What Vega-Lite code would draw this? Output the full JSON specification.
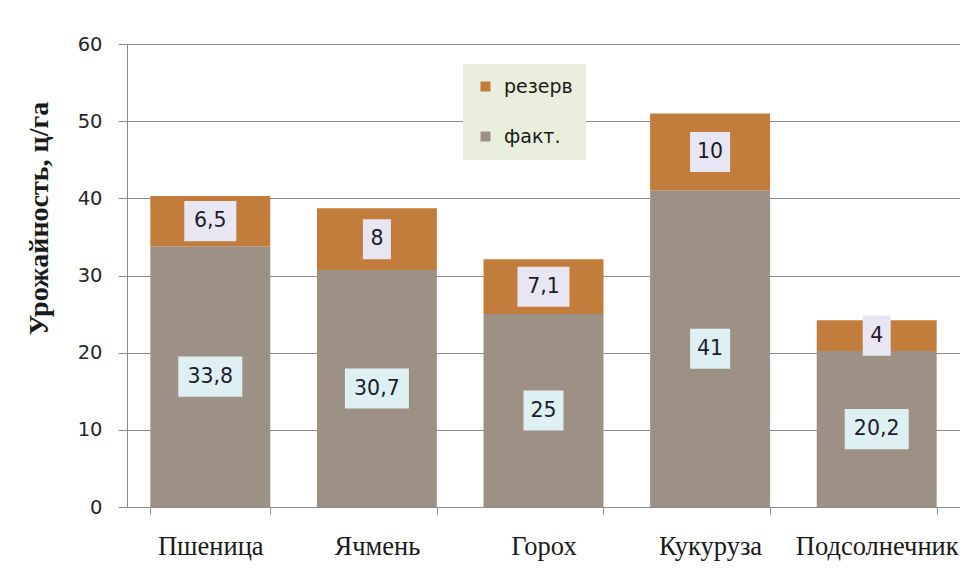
{
  "$schema": "https://vega.github.io/schema/vega-lite/v6.json",
  "width": 833,
  "height": 463,
  "autosize": {"type": "none"},
  "padding": {"left": 127, "top": 44, "right": 0, "bottom": 78},
  "background": "white",
  "config": {
    "view": {"stroke": null},
    "locale": {"number": {"decimal": ",", "thousands": " ", "grouping": [3], "currency": ["", ""]}}
  },
  "data": {
    "values": [
      {"crop": "Пшеница", "series": "факт.", "value": 33.8},
      {"crop": "Пшеница", "series": "резерв", "value": 6.5},
      {"crop": "Ячмень", "series": "факт.", "value": 30.7},
      {"crop": "Ячмень", "series": "резерв", "value": 8},
      {"crop": "Горох", "series": "факт.", "value": 25},
      {"crop": "Горох", "series": "резерв", "value": 7.1},
      {"crop": "Кукуруза", "series": "факт.", "value": 41},
      {"crop": "Кукуруза", "series": "резерв", "value": 10},
      {"crop": "Подсолнечник", "series": "факт.", "value": 20.2},
      {"crop": "Подсолнечник", "series": "резерв", "value": 4}
    ]
  },
  "transform": [
    {"stack": "value", "groupby": ["crop"], "sort": [{"field": "series", "order": "descending"}], "as": ["y0", "y1"]},
    {"calculate": "(datum.y0 + datum.y1) / 2", "as": "mid"},
    {"calculate": "datum.mid - 2.6", "as": "boxLo"},
    {"calculate": "datum.mid + 2.6", "as": "boxHi"},
    {"calculate": "16 + 12 * length(format(datum.value, '~f'))", "as": "boxW"}
  ],
  "encoding": {
    "x": {
      "field": "crop",
      "type": "nominal",
      "sort": null,
      "scale": {"paddingInner": 0.28, "paddingOuter": 0.14},
      "axis": {
        "title": null,
        "labelAngle": 0,
        "tickBand": "extent",
        "tickSize": 7,
        "tickColor": "#8c8c8c",
        "domainColor": "#8c8c8c",
        "labelFont": "Liberation Serif",
        "labelFontSize": 26.5,
        "labelColor": "#1a1a1a",
        "labelPadding": 19,
        "labelOverlap": false,
        "labelFlush": false,
        "labelLimit": 0
      }
    }
  },
  "layer": [
    {
      "mark": {"type": "bar"},
      "encoding": {
        "y": {
          "field": "y1",
          "type": "quantitative",
          "title": "Урожайность, ц/га",
          "scale": {"domain": [0, 60]},
          "axis": {
            "values": [0, 10, 20, 30, 40, 50, 60],
            "grid": true,
            "gridColor": "#8c8c8c",
            "domainColor": "#8c8c8c",
            "tickColor": "#8c8c8c",
            "tickSize": 9,
            "labelPadding": 16,
            "labelFont": "DejaVu Sans",
            "labelFontSize": 19.5,
            "labelColor": "#262626",
            "titleFont": "Liberation Serif",
            "titleFontSize": 28,
            "titleFontWeight": "bold",
            "titleColor": "#1a1a1a",
            "titleAngle": -90,
            "titleX": -80,
            "titleY": 174,
            "titleBaseline": "alphabetic",
            "titleAlign": "center"
          }
        },
        "y2": {"field": "y0"},
        "color": {
          "field": "series",
          "type": "nominal",
          "scale": {"domain": ["резерв", "факт."], "range": ["#c27d3c", "#9d9084"]},
          "legend": {
            "title": null,
            "orient": "none",
            "legendX": 336,
            "legendY": 20,
            "fillColor": "#e9eedd",
            "padding": 13,
            "symbolType": "square",
            "symbolSize": 100,
            "symbolStrokeWidth": 0,
            "labelFont": "DejaVu Sans",
            "labelFontSize": 19,
            "labelColor": "#1a1a1a",
            "rowPadding": 30,
            "labelOffset": 9
          }
        }
      }
    },
    {
      "mark": {"type": "bar"},
      "encoding": {
        "y": {"field": "boxLo", "type": "quantitative", "title": "Урожайность, ц/га"},
        "y2": {"field": "boxHi"},
        "size": {"field": "boxW", "type": "quantitative", "scale": null},
        "color": {"condition": {"test": "datum.series === 'факт.'", "value": "#dff0f3"}, "value": "#e8e6f2"}
      }
    },
    {
      "mark": {"type": "text", "font": "DejaVu Sans", "fontSize": 20.5, "color": "#1c1c2c", "baseline": "middle", "align": "center"},
      "encoding": {
        "y": {"field": "mid", "type": "quantitative", "title": "Урожайность, ц/га"},
        "text": {"field": "value", "type": "quantitative", "format": "~f"}
      }
    }
  ]
}
